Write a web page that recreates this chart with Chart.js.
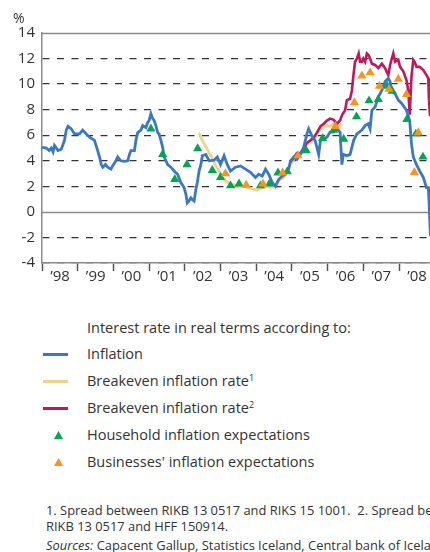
<!DOCTYPE html>
<html>
<head>
<meta charset="utf-8">
<script src="https://cdn.jsdelivr.net/npm/chart.js@4.4.0/dist/chart.umd.min.js"></script>
<style>
  body { margin: 0; width: 430px; height: 552px; overflow: hidden; background: #fff;
         font-family: "Open Sans", sans-serif; color: #333; position: relative; }
  #chart { position: absolute; left: 0; top: 0; }
  #pct { position: absolute; left: 13px; top: 8px; font-size: 14px; }
  .txt { position: absolute; left: 87px; font-size: 14.5px; line-height: 20px; white-space: nowrap; }
  .txt sup { font-size: 9px; vertical-align: 5px; line-height: 0; }
  .sw { position: absolute; left: 43px; width: 25px; height: 3px; }
  .tri { position: absolute; left: 54px; width: 9px; height: 8px;
         clip-path: polygon(50% 0, 100% 100%, 0 100%); }
  .note { position: absolute; left: 46px; font-size: 12.9px; line-height: 16px; white-space: nowrap; }
</style>
</head>
<body>
<canvas id="chart" width="440" height="290"></canvas>
<div id="pct">%</div>

<div class="txt" style="top:318px">Interest rate in real terms according to:</div>
<div class="sw" style="top:353px;background:#3b78c3"></div>
<div class="txt" style="top:344px">Inflation</div>
<div class="sw" style="top:380px;background:#ecd488"></div>
<div class="txt" style="top:371px">Breakeven inflation rate<sup>1</sup></div>
<div class="sw" style="top:407px;background:#c2185b"></div>
<div class="txt" style="top:398px">Breakeven inflation rate<sup>2</sup></div>
<div class="tri" style="top:431px;background:#00a651"></div>
<div class="txt" style="top:425px">Household inflation expectations</div>
<div class="tri" style="top:458px;background:#f7941e"></div>
<div class="txt" style="top:452px">Businesses' inflation expectations</div>

<div class="note" style="top:502px">1. Spread between RIKB 13 0517 and RIKS 15 1001.&nbsp; 2. Spread between<br>RIKB 13 0517 and HFF 150914.</div>
<div class="note" style="top:537px"><i>Sources:</i> Capacent Gallup, Statistics Iceland, Central bank of Iceland.</div>

<script>
// real interest rate based on inflation
var inflYears = [1998.00, 1998.12, 1998.20, 1998.26, 1998.31, 1998.35, 1998.45, 1998.54, 1998.63, 1998.68,
  1998.73, 1998.82, 1998.91, 1999.05, 1999.14, 1999.24, 1999.33, 1999.47, 1999.56, 1999.61,
  1999.66, 1999.70, 1999.78, 1999.84, 1999.93, 1999.98, 2000.07, 2000.12, 2000.21, 2000.31,
  2000.40, 2000.45, 2000.49, 2000.59, 2000.63, 2000.68, 2000.77, 2000.82, 2000.91, 2000.96,
  2001.00, 2001.05, 2001.10, 2001.14, 2001.19, 2001.24, 2001.28, 2001.33, 2001.38, 2001.42,
  2001.52, 2001.61, 2001.70, 2001.80, 2001.89, 2001.98, 2002.03, 2002.07, 2002.12, 2002.17,
  2002.21, 2002.26, 2002.31, 2002.35, 2002.40, 2002.45, 2002.49, 2002.59, 2002.68, 2002.82,
  2002.91, 2003.00, 2003.10, 2003.19, 2003.28, 2003.42, 2003.56, 2003.70, 2003.84, 2003.98,
  2004.07, 2004.17, 2004.26, 2004.35, 2004.45, 2004.54, 2004.63, 2004.73, 2004.82, 2004.91,
  2004.96, 2005.05, 2005.14, 2005.24, 2005.33, 2005.42, 2005.47, 2005.56, 2005.65, 2005.70,
  2005.75, 2005.80, 2005.89, 2005.98, 2006.07, 2006.17, 2006.26, 2006.35, 2006.40, 2006.44,
  2006.54, 2006.63, 2006.73, 2006.82, 2006.96, 2007.05, 2007.14, 2007.19, 2007.24, 2007.33,
  2007.42, 2007.52, 2007.61, 2007.70, 2007.75, 2007.79, 2007.89, 2007.98, 2008.07, 2008.21,
  2008.30, 2008.35, 2008.40, 2008.49, 2008.58, 2008.68, 2008.77, 2008.82, 2008.84, 2008.88];
var inflValues = [5.05, 5.0, 4.8, 5.0, 4.7, 5.2, 4.8, 4.9, 5.6, 6.4,
  6.7, 6.5, 6.1, 6.1, 6.4, 6.1, 5.85, 5.6, 4.8, 4.3,
  3.7, 3.5, 3.7, 3.5, 3.35, 3.6, 4.0, 4.3, 4.0, 3.95,
  4.0, 4.5, 4.8, 4.8, 5.6, 6.2, 6.4, 6.75, 6.6, 7.0,
  7.15, 7.7, 7.3, 7.15, 6.75, 6.2, 6.1, 5.6, 5.05, 4.3,
  3.7, 3.5, 3.2, 2.95, 2.3, 1.9, 1.4, 0.7, 0.85, 1.1,
  0.97, 0.85, 1.75, 2.3, 3.2, 3.7, 4.4, 4.5, 4.0, 4.05,
  4.3, 3.7, 4.4, 3.7, 3.2, 3.5, 3.6, 3.35, 3.1, 2.7,
  2.95, 2.8, 3.35, 2.95, 2.3, 2.0, 2.55, 2.8, 2.95, 3.35,
  4.0, 4.3, 4.1, 4.5, 5.05, 6.1, 6.5, 5.95, 5.6, 5.05,
  4.5, 5.6, 5.7, 5.85, 6.25, 6.25, 6.5, 6.25, 3.7, 4.5,
  4.4, 4.5, 5.6, 6.1, 6.4, 6.75, 6.9, 6.5, 7.95, 8.2,
  9.0, 9.5, 10.2, 10.45, 10.2, 9.5, 9.25, 8.75, 8.5, 7.95,
  7.15, 5.3, 4.3, 3.7, 3.2, 2.7, 1.9, 1.9, 0.85, -1.9];

// breakeven inflation rate 1
var bei1Years = [2002.38, 2002.41, 2002.49, 2002.59, 2002.68, 2002.77, 2002.87, 2002.96, 2003.05, 2003.14,
  2003.24, 2003.33, 2003.52, 2003.70, 2003.89, 2004.03, 2004.17, 2004.31, 2004.40, 2004.49,
  2004.59, 2004.68, 2004.77, 2004.87, 2004.96, 2005.05, 2005.14, 2005.24, 2005.33, 2005.42,
  2005.52, 2005.61, 2005.70, 2005.80, 2005.89, 2005.98, 2006.07, 2006.17, 2006.26, 2006.35, 2006.40];
var bei1Values = [6.15, 6.1, 5.6, 5.1, 4.6, 4.2, 3.6, 3.25, 2.7, 2.45,
  2.25, 2.15, 2.0, 2.0, 1.8, 1.7, 1.9, 2.0, 1.9, 2.0,
  2.3, 2.55, 2.7, 3.2, 3.7, 4.1, 4.3, 4.5, 4.9, 5.3,
  5.45, 5.6, 6.1, 6.5, 6.7, 6.75, 6.7, 6.9, 6.9, 6.75, 6.9];

// breakeven inflation rate 2
var bei2Years = [2004.95, 2005.05, 2005.14, 2005.24, 2005.33, 2005.42, 2005.52, 2005.61, 2005.70, 2005.80,
  2005.89, 2005.98, 2006.07, 2006.17, 2006.26, 2006.35, 2006.40, 2006.49, 2006.54, 2006.63,
  2006.68, 2006.73, 2006.77, 2006.82, 2006.87, 2006.91, 2006.96, 2007.00, 2007.05, 2007.10,
  2007.14, 2007.19, 2007.24, 2007.33, 2007.42, 2007.52, 2007.61, 2007.70, 2007.75, 2007.79,
  2007.84, 2007.89, 2007.98, 2008.03, 2008.12, 2008.21, 2008.26, 2008.30, 2008.35, 2008.40,
  2008.44, 2008.49, 2008.58, 2008.68, 2008.77, 2008.82, 2008.84, 2008.87];
var bei2Values = [3.9, 4.2, 4.6, 4.6, 5.0, 5.4, 5.6, 5.8, 6.2, 6.7,
  6.9, 7.15, 7.3, 7.2, 6.9, 7.15, 7.55, 7.95, 8.75, 8.85,
  9.5, 10.85, 11.75, 12.0, 12.4, 11.75, 11.75, 12.0, 11.75, 12.4,
  12.3, 12.0, 11.6, 11.5, 11.25, 11.6, 11.25, 10.7, 11.5, 11.9,
  12.4, 11.75, 11.9, 11.35, 11.0, 10.3, 9.5, 7.6, 10.6, 11.9,
  11.75, 11.35, 11.35, 11.1, 10.7, 10.45, 8.75, 7.5];

// survey based
var hhYears = [2001.05, 2001.38, 2001.72, 2002.06, 2002.36, 2002.77, 2003.00, 2003.28, 2003.52, 2004.12,
  2004.37, 2004.61, 2004.87, 2005.40, 2005.86, 2006.17, 2006.45, 2006.81, 2007.16, 2007.42,
  2007.67, 2007.81, 2008.22, 2008.47, 2008.67];
var hhValues = [6.5, 4.5, 2.55, 3.7, 4.95, 3.25, 2.7, 2.05, 2.2, 2.05,
  2.2, 3.05, 3.15, 4.8, 5.75, 6.4, 5.7, 7.45, 8.7, 8.8,
  9.85, 9.45, 7.25, 6.1, 4.3];
var bizYears = [2003.14, 2003.72, 2004.19, 2004.74, 2005.17, 2006.22, 2006.75, 2006.96, 2007.19, 2007.45,
  2007.72, 2007.98, 2008.21, 2008.43, 2008.54];
var bizValues = [3.0, 2.1, 2.2, 3.05, 4.4, 6.7, 8.55, 10.65, 10.9, 9.85,
  9.6, 10.4, 9.2, 3.1, 6.2];

var yearLabels = ['98', '99', '00', '01', '02', '03', '04', '05', '06', '07', '08'];

function pts(xs, ys) {
  return xs.map(function(x, i) { return { x: x, y: ys[i] }; });
}

var refLines = {
  id: 'refLines',
  beforeDatasetsDraw: function(chart) {
    var ctx = chart.ctx, a = chart.chartArea, y = chart.scales.y;
    ctx.save();
    ctx.strokeStyle = '#8a8a8a';
    ctx.lineWidth = 1.5;
    [0, 14].forEach(function(v) {
      var py = Math.round(y.getPixelForValue(v)) + 0.5;
      ctx.beginPath();
      ctx.moveTo(a.left, py);
      ctx.lineTo(a.right, py);
      ctx.stroke();
    });
    ctx.restore();
  }
};

var ctx = document.getElementById('chart').getContext('2d');
new Chart(ctx, {
  type: 'scatter',
  data: {
    datasets: [
      { data: pts(bizYears, bizValues), backgroundColor: '#f7941e', borderWidth: 0,
        pointStyle: 'triangle', pointRadius: 5.3, order: 1 },
      { data: pts(hhYears, hhValues), backgroundColor: '#00a651', borderWidth: 0,
        pointStyle: 'triangle', pointRadius: 5.3, order: 2 },
      { data: pts(inflYears, inflValues), showLine: true, borderColor: '#3b78c3', borderWidth: 2.8,
        pointRadius: 0, order: 3 },
      { data: pts(bei2Years, bei2Values), showLine: true, borderColor: '#c2185b', borderWidth: 2.6,
        pointRadius: 0, order: 4 },
      { data: pts(bei1Years, bei1Values), showLine: true, borderColor: '#ecd488', borderWidth: 2.8,
        pointRadius: 0, order: 5 }
    ]
  },
  options: {
    responsive: false,
    animation: false,
    events: [],
    layout: { padding: { top: 33, right: 3.6, bottom: 0, left: 0 } },
    plugins: { legend: { display: false }, tooltip: { enabled: false } },
    scales: {
      x: {
        type: 'linear',
        min: 1998,
        max: 2009,
        afterFit: function(s) { s.height = 27; },
        afterBuildTicks: function(s) {
          s.ticks = [];
          for (var v = 1998; v <= 2009; v++) s.ticks.push({ value: v });
        },
        ticks: {
          autoSkip: false,
          maxRotation: 0,
          labelOffset: 18,
          padding: -3,
          color: '#333',
          font: { family: 'Open Sans', size: 15 },
          callback: function(v) {
            var i = Math.round(v) - 1998;
            return yearLabels[i] ? '\u2019' + yearLabels[i] : '';
          }
        },
        grid: { drawOnChartArea: false, drawTicks: true, tickLength: 8, tickColor: '#555', tickWidth: 1.5 },
        border: { color: '#8a8a8a', width: 1.5 }
      },
      y: {
        min: -4,
        max: 14,
        afterFit: function(s) { s.width = 42; },
        ticks: {
          stepSize: 2,
          padding: 7,
          color: '#333',
          font: { family: 'Open Sans', size: 15 }
        },
        grid: {
          drawTicks: false,
          lineWidth: 1.3,
          color: function(c) {
            var v = c.tick ? c.tick.value : null;
            return (v === 0 || v === 14) ? 'rgba(0,0,0,0)' : '#333';
          }
        },
        border: { color: '#8a8a8a', width: 1.5, dash: [7, 7.5] }
      }
    }
  },
  plugins: [refLines]
});
</script>
</body>
</html>
